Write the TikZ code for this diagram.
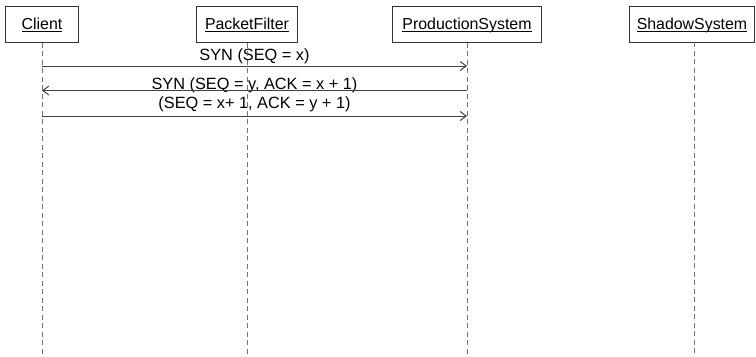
\documentclass[tikz,border=0pt]{standalone}
\usepackage{fontspec}
\setmainfont{Liberation Sans}
\usetikzlibrary{arrows.meta}
% underlined participant name, rule at a fixed depth below the baseline
\newcommand\objname[1]{{\setbox0\hbox{#1}\rlap{\rule[-2.6bp]{\wd0}{0.9bp}}\box0}}
\tikzset{
  object/.style={draw=black!80, line width=1bp, minimum height=35.6bp, inner sep=0pt,
                 text height=11.5bp, text depth=2.5bp,
                 font=\fontsize{15.9bp}{18bp}\selectfont},
  lifeline/.style={draw=black!55, line width=0.9bp, dash pattern=on 5bp off 3.5bp},
  message/.style={draw=black!75, line width=1bp,
                  -{Straight Barb[length=6bp,width=9bp,line width=1bp]}},
  msglabel/.style={anchor=base, inner sep=0pt, font=\fontsize{16.3bp}{18bp}\selectfont}
}
\begin{document}
\begin{tikzpicture}[x=1bp,y=1bp]
  \useasboundingbox (0,0) rectangle (756,-356);

  % participants
  \node[object, minimum width=73.4bp]  (cl) at (42,-24.5)  {\objname{Client}};
  \node[object, minimum width=101.4bp] (pf) at (247,-24.5) {\objname{PacketFilter}};
  \node[object, minimum width=149.4bp] (ps) at (467,-24.5) {\objname{ProductionSystem}};
  \node[object, minimum width=125.7bp] (sh) at (692,-24.5) {\objname{ShadowSystem}};

  % lifeline ends
  \coordinate (clEnd) at (42,-356);
  \coordinate (pfEnd) at (247,-356);
  \coordinate (psEnd) at (467,-356);
  \coordinate (shTop) at (694,-42.3);
  \coordinate (shEnd) at (694,-356);

  % message labels
  \node[msglabel] (l1) at (254.5,-60)   {SYN (SEQ = x)};
  \node[msglabel] (l2) at (254.5,-89.2) {SYN (SEQ = y, ACK = x + 1)};
  \node[msglabel] (l3) at (254.5,-108.6) {(SEQ = x+ 1, ACK = y + 1)};

  % lifelines
  \draw[lifeline] (cl.south) -- (clEnd);
  \draw[lifeline] (pf.south) -- (pfEnd);
  \draw[lifeline] (ps.south) -- (psEnd);
  \draw[lifeline] (shTop) -- (shEnd);

  % message rows
  \coordinate (m1) at (0,-66);
  \coordinate (m2) at (0,-90.5);
  \coordinate (m3) at (0,-116);

  \draw[message] (cl.south |- m1) -- (ps.south |- m1);
  \draw[message] (ps.south |- m2) -- (cl.south |- m2);
  \draw[message] (cl.south |- m3) -- (ps.south |- m3);
\end{tikzpicture}
\end{document}
